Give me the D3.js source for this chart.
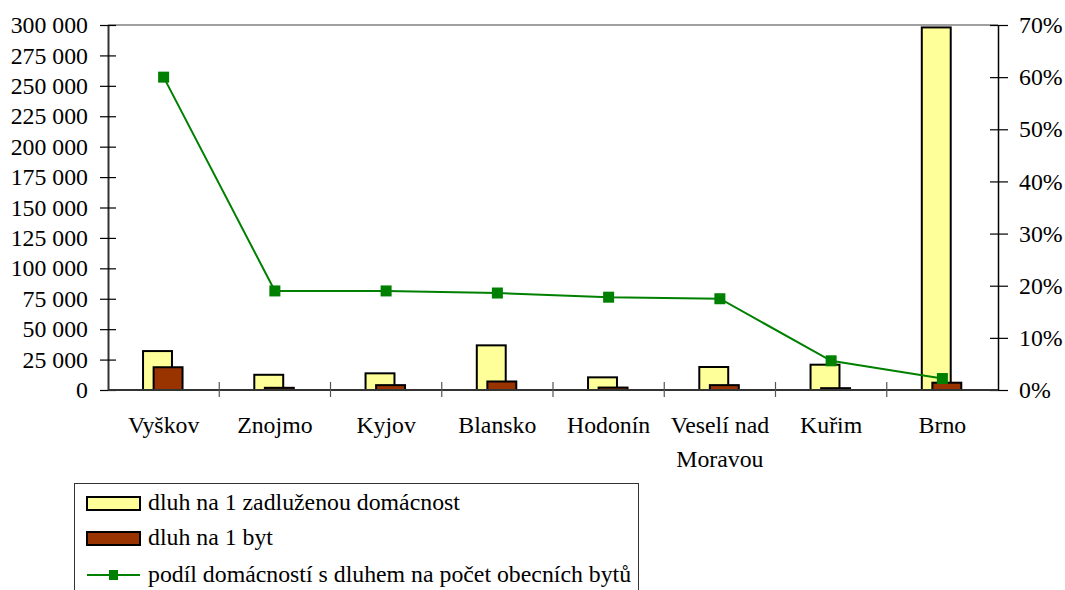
<!DOCTYPE html>
<html>
<head>
<meta charset="utf-8">
<script src="https://cdn.jsdelivr.net/npm/d3@7/dist/d3.min.js"></script>
</head>
<body style="margin:0;background:#fff">
<svg id="chart" width="1065" height="590" style="display:block"></svg>
<script>
// ---- data ----
const categories = ["Vyškov", "Znojmo", "Kyjov", "Blansko", "Hodonín", "Veselí nad\nMoravou", "Kuřim", "Brno"];
const debtPerHousehold = [32000, 12500, 13700, 36700, 10400, 18900, 20800, 298000];
const debtPerFlat = [18700, 1800, 4000, 7000, 2000, 4000, 1500, 6000];
const shareHouseholds = [0.60, 0.19, 0.19, 0.186, 0.178, 0.175, 0.056, 0.022];
const leftTicks = [0, 25000, 50000, 75000, 100000, 125000, 150000, 175000, 200000, 225000, 250000, 275000, 300000];
const rightTicks = [0, 0.1, 0.2, 0.3, 0.4, 0.5, 0.6, 0.7];
const legendLabels = ["dluh na 1 zadluženou domácnost", "dluh na 1 byt", "podíl domácností s dluhem na počet obecních bytů"];

// ---- layout ----
const FONT = '"Liberation Serif"';
const FS = "23.8px";
const setFont = sel => sel.style("font-family", FONT, "important").style("font-size", FS, "important")
  .attr("font-family", "Liberation Serif").attr("fill", "#000");
const svg = d3.select("#chart");
svg.attr("font-family", "Liberation Serif");
const L = 108, R = 998, T = 25, B = 390;
const yellow = "#FFFF99", brown = "#993300", green = "#008000";

const x = d3.scaleBand().domain(categories).range([L, R]).padding(0);
const bw = x.bandwidth();
const yL = d3.scaleLinear().domain([0, 300000]).range([B, T]);
const yR = d3.scaleLinear().domain([0, 0.7]).range([B, T]);

// plot top border
svg.append("line").attr("x1", L).attr("x2", R).attr("y1", T).attr("y2", T)
  .attr("stroke", "#a0a0a0").attr("stroke-width", 2);

// bars
const barW = bw * 0.26;
const offY = bw * 0.315, offB = bw * 0.41;
svg.append("g").selectAll("rect").data(debtPerHousehold).join("rect")
  .attr("x", (d, i) => x(categories[i]) + offY)
  .attr("y", d => yL(d))
  .attr("width", barW)
  .attr("height", d => B - yL(d))
  .attr("fill", yellow).attr("stroke", "#000").attr("stroke-width", 2);
svg.append("g").selectAll("rect").data(debtPerFlat).join("rect")
  .attr("x", (d, i) => x(categories[i]) + offB)
  .attr("y", d => yL(d))
  .attr("width", barW)
  .attr("height", d => B - yL(d))
  .attr("fill", brown).attr("stroke", "#000").attr("stroke-width", 2);

// left axis
const fmt = d => d3.format(",")(d).replace(/,/g, " ");
const gL = svg.append("g").attr("transform", `translate(${L},0)`)
  .call(d3.axisLeft(yL).tickValues(leftTicks).tickFormat(fmt).tickSizeInner(8).tickSizeOuter(0).tickPadding(12));
gL.attr("font-family", "Liberation Serif");
gL.select(".domain").attr("stroke", "#333").attr("stroke-width", 2);
gL.selectAll(".tick line").attr("x1", 8).attr("x2", -8).attr("stroke", "#000").attr("stroke-width", 1.2);
setFont(gL.selectAll(".tick text"));

// right axis
const gR = svg.append("g").attr("transform", `translate(${R},0)`)
  .call(d3.axisRight(yR).tickValues(rightTicks).tickFormat(d3.format(".0%")).tickSizeInner(10).tickSizeOuter(0).tickPadding(11));
gR.attr("font-family", "Liberation Serif");
gR.select(".domain").attr("stroke", "#000").attr("stroke-width", 1.5);
gR.selectAll(".tick line").attr("x1", -8).attr("x2", 10).attr("stroke", "#000").attr("stroke-width", 1.2);
setFont(gR.selectAll(".tick text"));

// bottom axis
svg.append("line").attr("x1", L).attr("x2", R).attr("y1", B).attr("y2", B)
  .attr("stroke", "#333").attr("stroke-width", 2);
svg.append("g").selectAll("line").data(categories.slice(1)).join("line")
  .attr("x1", d => x(d)).attr("x2", d => x(d))
  .attr("y1", B - 8).attr("y2", B + 7)
  .attr("stroke", "#555").attr("stroke-width", 1.2);

// category labels
const lbl = svg.selectAll("text.cat").data(categories).join("text").attr("class", "cat")
  .attr("text-anchor", "middle")
  .attr("x", d => x(d) + bw / 2)
  .attr("y", 433);
setFont(lbl);
lbl.each(function(d) {
  const parts = d.split("\n");
  d3.select(this).selectAll("tspan").data(parts).join("tspan")
    .attr("x", x(d) + bw / 2)
    .attr("dy", (p, i) => i === 0 ? 0 : 34)
    .text(p => p);
});

// line series
const line = d3.line().x((d, i) => x(categories[i]) + bw / 2).y(d => yR(d));
svg.append("path").datum(shareHouseholds).attr("d", line)
  .attr("fill", "none").attr("stroke", green).attr("stroke-width", 2);
const ms = 11;
svg.append("g").selectAll("rect").data(shareHouseholds).join("rect")
  .attr("x", (d, i) => x(categories[i]) + bw / 2 - ms / 2)
  .attr("y", d => yR(d) - ms / 2)
  .attr("width", ms).attr("height", ms)
  .attr("fill", green);

// legend
svg.append("rect").attr("x", 74.5).attr("y", 483.5).attr("width", 564).attr("height", 130)
  .attr("fill", "#fff").attr("stroke", "#333").attr("stroke-width", 1);
const rowsY = [503, 538, 575];
svg.append("rect").attr("x", 87).attr("y", rowsY[0] - 6).attr("width", 53).attr("height", 13)
  .attr("fill", yellow).attr("stroke", "#000").attr("stroke-width", 2);
svg.append("rect").attr("x", 87).attr("y", rowsY[1] - 6).attr("width", 53).attr("height", 13)
  .attr("fill", brown).attr("stroke", "#000").attr("stroke-width", 2);
svg.append("line").attr("x1", 87).attr("x2", 140).attr("y1", rowsY[2]).attr("y2", rowsY[2])
  .attr("stroke", green).attr("stroke-width", 2);
svg.append("rect").attr("x", 113.5 - 4.5).attr("y", rowsY[2] - 5).attr("width", 9).attr("height", 10)
  .attr("fill", green);
const lt = svg.selectAll("text.lt").data(legendLabels).join("text").attr("class", "lt")
  .attr("x", 148).attr("y", (d, i) => rowsY[i] + 7)
  .text(d => d);
setFont(lt);
</script>
</body>
</html>
